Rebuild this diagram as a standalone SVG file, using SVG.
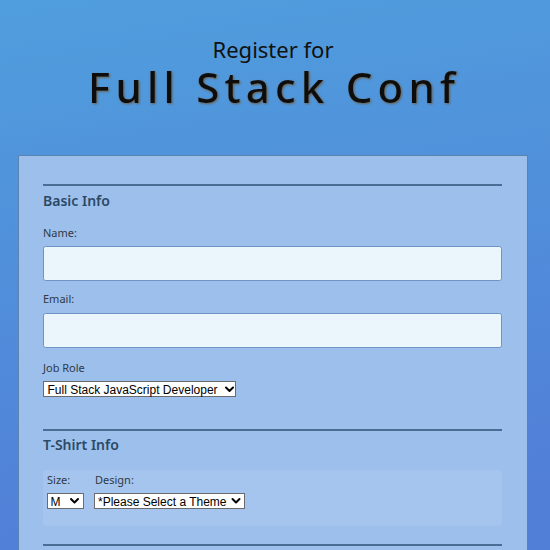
<svg xmlns="http://www.w3.org/2000/svg" width="550" height="550" viewBox="0 0 550 550">
<defs>
<linearGradient id="bg" x1="0" y1="0" x2="0.15" y2="1">
<stop offset="0" stop-color="#509edd"/>
<stop offset="1" stop-color="#517fd8"/>
</linearGradient>
<filter id="sh" x="-5%" y="-20%" width="110%" height="140%">
<feDropShadow dx="1" dy="1" stdDeviation="0.8" flood-color="#6b5a40" flood-opacity="0.9"/>
</filter>
</defs>
<style>
.title{font-family:"Noto Sans","Lato",sans-serif;fill:#111}
.hd{font-family:"Noto Sans","Lato",sans-serif;font-size:14px;font-weight:600;fill:#2b4a66}
.lbl{font-family:"Noto Sans","Lato",sans-serif;font-size:11px;fill:#2f3a44}
.rule{stroke:#4a6e93;stroke-width:2}
.inp{fill:#ebf6fc;stroke:#6f93c4;stroke-width:1}
.sel{fill:#ffffff;stroke:#6b6b6b;stroke-width:1}
.opt{font-family:"Liberation Sans",Arial,sans-serif;font-size:12px;fill:#000}
.chev{fill:none;stroke:#000;stroke-width:2;stroke-linecap:round;stroke-linejoin:round}
</style>
<rect width="550" height="550" fill="url(#bg)"/>
<g id="header">
<text class="title" x="273" y="58" font-size="22" text-anchor="middle">Register for</text>
<text class="title" x="88" y="103" font-size="42" font-weight="500" textLength="367" lengthAdjust="spacing" filter="url(#sh)">Full Stack Conf</text>
</g>
<g id="panel">
<rect x="18.5" y="155.5" width="509" height="400" fill="#9dbfeb" stroke="#5c82b0"/>
</g>
<g id="basic-info">
<line class="rule" x1="43" y1="185" x2="502" y2="185"/>
<text class="hd" x="43" y="206">Basic Info</text>
<text class="lbl" x="43" y="237">Name:</text>
<rect class="inp" x="43.5" y="246.5" width="458" height="34" rx="2"/>
<text class="lbl" x="43" y="303">Email:</text>
<rect class="inp" x="43.5" y="313.5" width="458" height="34" rx="2"/>
<text class="lbl" x="43" y="372">Job Role</text>
<g id="job-select">
<rect class="sel" x="43.5" y="381.5" width="192" height="15"/>
<text class="opt" x="47.5" y="393.5" font-size="12.6">Full Stack JavaScript Developer</text>
<polyline class="chev" points="226,387.5 229.5,391 233,387.5"/>
</g>
</g>
<g id="tshirt-info">
<line class="rule" x1="43" y1="430" x2="502" y2="430"/>
<text class="hd" x="43" y="450">T-Shirt Info</text>
<rect x="43" y="470" width="459" height="56" rx="4" fill="#a6c5ee"/>
<text class="lbl" x="47" y="484">Size:</text>
<text class="lbl" x="95" y="484">Design:</text>
<g id="size-select">
<rect class="sel" x="47.5" y="493.5" width="36" height="15"/>
<text class="opt" x="50.5" y="505.5">M</text>
<polyline class="chev" points="71,499 74.5,502.5 78,499"/>
</g>
<g id="design-select">
<rect class="sel" x="94.5" y="493.5" width="150" height="15"/>
<text class="opt" x="98" y="505.5">*Please Select a Theme</text>
<polyline class="chev" points="232.5,499 236,502.5 239.5,499"/>
</g>
<line class="rule" x1="43" y1="545" x2="502" y2="545"/>
</g>
</svg>
